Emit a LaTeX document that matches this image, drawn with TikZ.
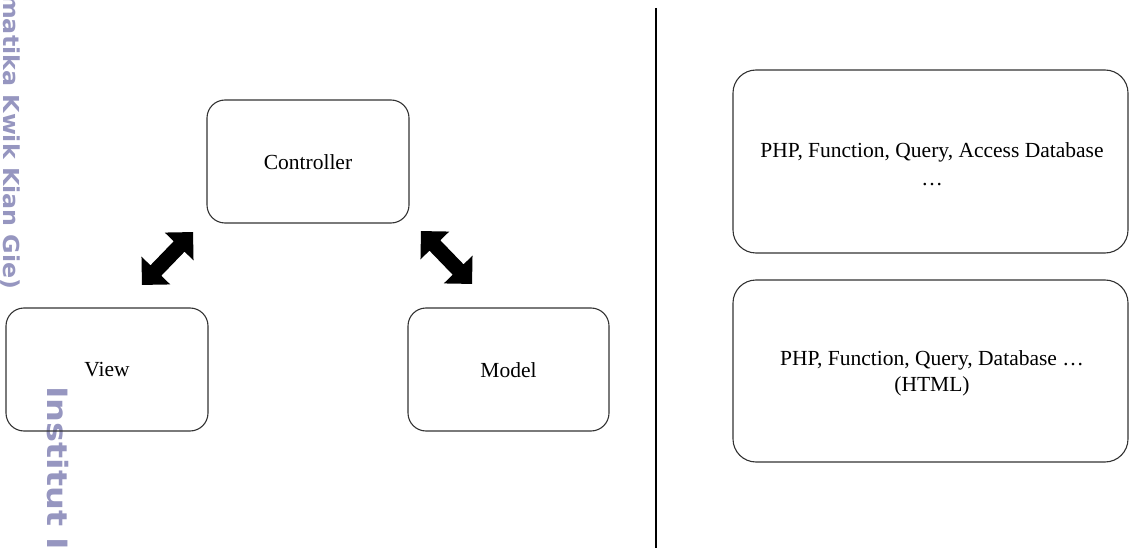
\documentclass[tikz,border=0pt]{standalone}
\usepackage{fontspec}
\setmainfont{Liberation Serif}
\newfontfamily\wmfont{DejaVu Sans}
\definecolor{wmcol}{RGB}{150,150,192}
\begin{document}
\begin{tikzpicture}[x=1pt,y=-1pt,
  box/.style={draw=black!80, line width=1.1pt, rounded corners=18pt},
  bigbox/.style={box, rounded corners=23pt},
  lbl/.style={font=\fontsize{21.5}{26}\selectfont, align=center},
  wm/.style={text=wmcol, rotate=-90, anchor=north west, inner sep=0pt},
  dblarrow/.pic={
    \fill[black] (-36.75,0) -- (-16.75,20) -- (-16.75,7.5) -- (16.75,7.5) -- (16.75,20)
      -- (36.75,0) -- (16.75,-20) -- (16.75,-7.5) -- (-16.75,-7.5) -- (-16.75,-20) -- cycle;
  }]
\useasboundingbox (0,0) rectangle (1130,548);
\fill[white] (0,0) rectangle (1130,548);
% watermark along the left margin
\node[wm, xscale=1.08, font=\wmfont\bfseries\fontsize{22}{22}\selectfont] (wmA) at (20,-6) {matika Kwik Kian Gie)};
\node[wm, xscale=1.2, font=\wmfont\bfseries\fontsize{28}{28}\selectfont] (wmB) at (69,386) {Institut I};
% MVC boxes
\draw[box] (207,100) rectangle (409,223);
\node[lbl] (ctrl) at (308,162) {Controller};
\draw[box] (6,308) rectangle (208,431);
\node[lbl] (view) at (107,370) {View};
\draw[box] (408,308) rectangle (609,431);
\node[lbl] (model) at (508.5,370) {Model};
% two-way arrows between controller and view / model
\pic[rotate=46] (arrowCV) at (167.5,258.5) {dblarrow};
\pic[rotate=-46] (arrowCM) at (446.5,257.5) {dblarrow};
% divider
\draw[line width=1.2pt] (656,8) coordinate (dtop) -- (656,548) coordinate (dbot);
% right boxes
\draw[bigbox] (733,70) rectangle (1128,253);
\node[lbl] (top) at (932,164) {PHP, Function, Query, Access Database\\[2pt]\ldots};
\draw[bigbox] (733,280) rectangle (1128,462);
\node[lbl] (bot) at (932,373) {PHP, Function, Query, Database \ldots\\(HTML)};
\end{tikzpicture}
\end{document}
